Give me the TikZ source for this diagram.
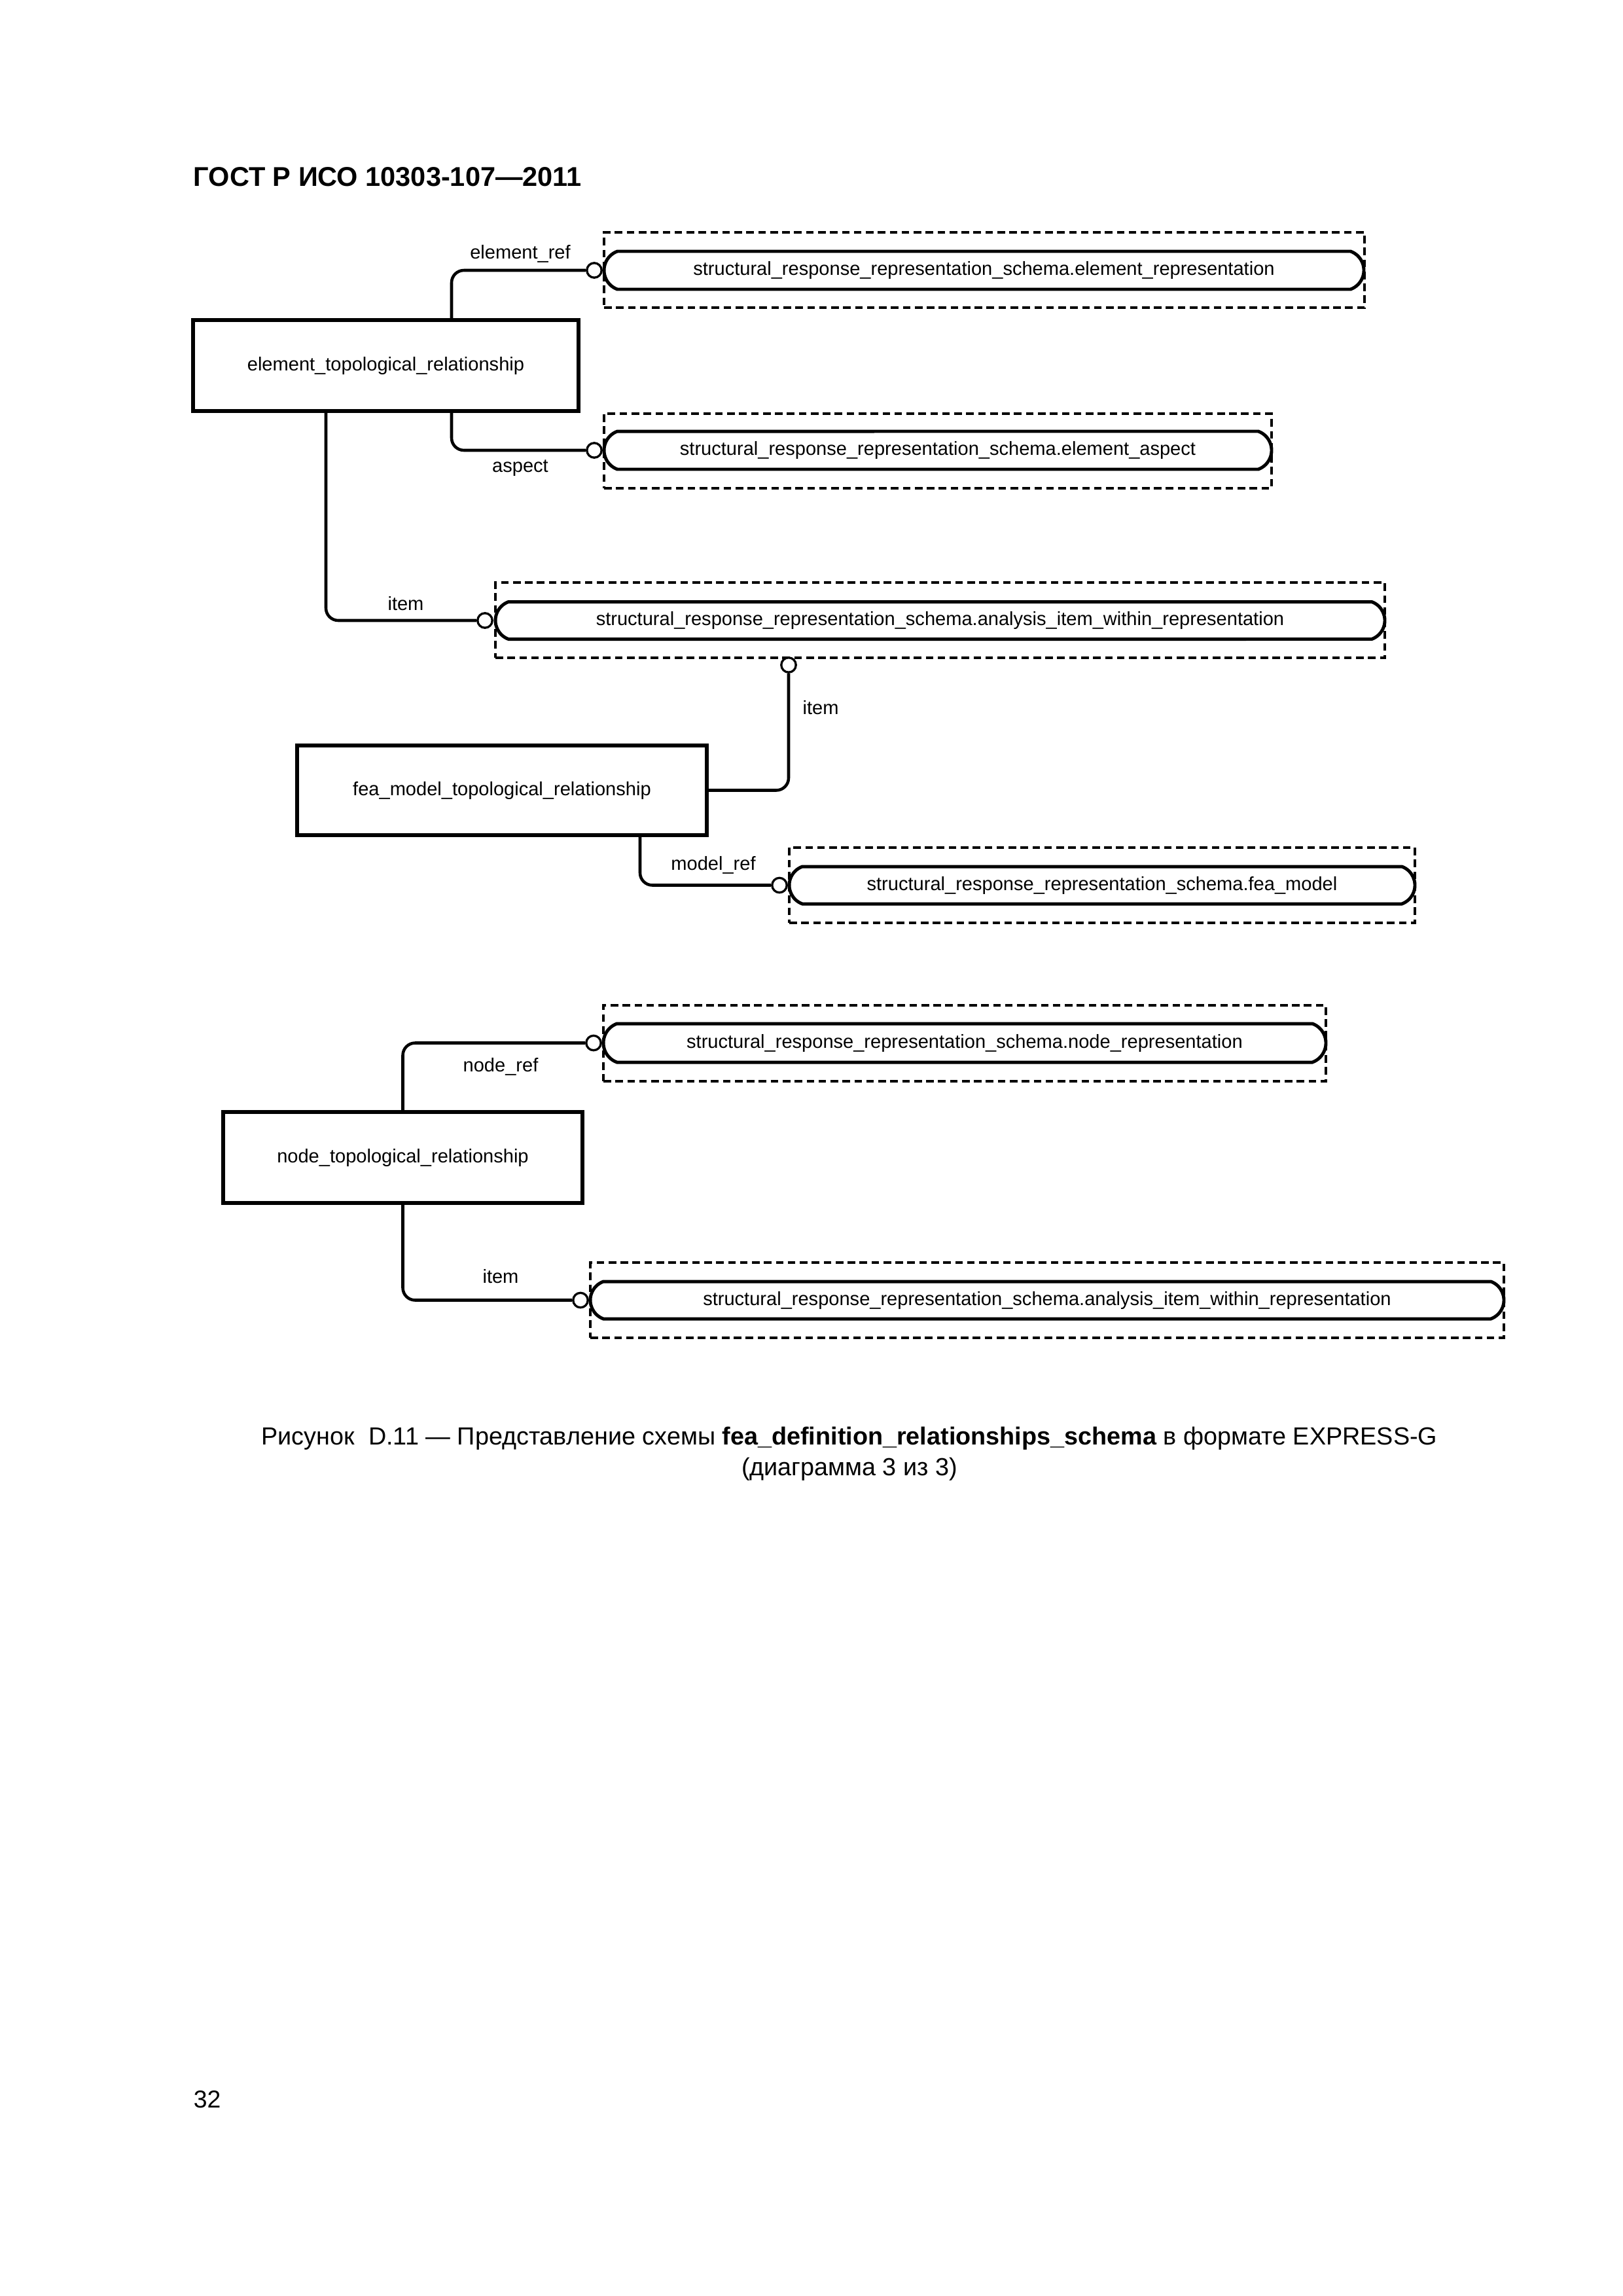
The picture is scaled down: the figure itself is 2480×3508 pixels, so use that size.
\documentclass[tikz,border=0pt]{standalone}
\usepackage{fontspec}
\setmainfont{Liberation Sans}
\usetikzlibrary{shapes.misc}
\def\PXU{0.08467mm}
\begin{document}
\begin{tikzpicture}[x=0.08467mm,y=-0.08467mm,
 entity/.style={draw, line width=1.3pt, rectangle, inner sep=0pt, font=\fontsize{7}{8}\selectfont},
 refbox/.style={draw, dash pattern=on 2.8pt off 1.6pt, line width=0.8pt, inner sep=0pt},
 refent/.style={draw, line width=1.2pt, rounded rectangle, rounded rectangle arc length=140, inner sep=0pt, font=\fontsize{7}{8}\selectfont},
 conn/.style={line width=1.1pt, rounded corners=1.6mm},
 optc/.style={draw, circle, line width=0.8pt, fill=white, minimum size=1.9mm, inner sep=0pt},
 lbl/.style={font=\fontsize{7}{8}\selectfont, inner sep=0pt}]
\useasboundingbox (0,0) rectangle (2480,3508);

% header and page number
\node[font=\fontsize{10}{12}\selectfont\bfseries, anchor=west, inner sep=0pt] (hdr) at (295,270) {ГОСТ Р ИСО 10303-107—2011};
\node[font=\fontsize{9}{11}\selectfont, anchor=west, inner sep=0pt] (pg) at (295,3208) {32};

% entities
\node[entity, minimum width=589*\PXU, minimum height=139*\PXU] (etr) at (589.5,558.5) {element\_topological\_relationship};
\node[entity, minimum width=626*\PXU, minimum height=137*\PXU] (fmtr) at (767,1207.5) {fea\_model\_topological\_relationship};
\node[entity, minimum width=549*\PXU, minimum height=139*\PXU] (ntr) at (615.5,1768.5) {node\_topological\_relationship};

% referenced entities: dashed frames
\node[refbox, minimum width=1162*\PXU, minimum height=115*\PXU] (dA) at (1504,412.5) {};
\node[refbox, minimum width=1020*\PXU, minimum height=114*\PXU] (dB) at (1433,689) {};
\node[refbox, minimum width=1359*\PXU, minimum height=115*\PXU] (dC) at (1436.5,947.5) {};
\node[refbox, minimum width=956*\PXU, minimum height=115*\PXU] (dD) at (1684,1352.5) {};
\node[refbox, minimum width=1104*\PXU, minimum height=116*\PXU] (dE) at (1474,1594) {};
\node[refbox, minimum width=1396*\PXU, minimum height=115*\PXU] (dF) at (1600,1986.5) {};

% referenced entities: rounded boxes
\node[refent, minimum width=1161*\PXU, minimum height=58*\PXU] (sA) at (1503.5,413) {structural\_response\_representation\_schema.element\_representation};
\node[refent, minimum width=1020*\PXU, minimum height=58*\PXU] (sB) at (1433,688) {structural\_response\_representation\_schema.element\_aspect};
\node[refent, minimum width=1359*\PXU, minimum height=57*\PXU] (sC) at (1436.5,948) {structural\_response\_representation\_schema.analysis\_item\_within\_representation};
\node[refent, minimum width=956*\PXU, minimum height=57*\PXU] (sD) at (1684,1352.5) {structural\_response\_representation\_schema.fea\_model};
\node[refent, minimum width=1104*\PXU, minimum height=59*\PXU] (sE) at (1474,1593.5) {structural\_response\_representation\_schema.node\_representation};
\node[refent, minimum width=1396*\PXU, minimum height=57*\PXU] (sF) at (1600,1986.5) {structural\_response\_representation\_schema.analysis\_item\_within\_representation};

% optional-end circles
\node[optc] (cA) at (908,413) {};
\node[optc] (cB) at (908,688) {};
\node[optc] (cC) at (741,948) {};
\node[optc] (cC2) at (1205,1016) {};
\node[optc] (cD) at (1191,1352.5) {};
\node[optc] (cE) at (907,1593.5) {};
\node[optc] (cF) at (887,1986.5) {};

% connectors
\draw[conn] (cA.west) -| ([xshift=100.5*\PXU]etr.north);
\draw[conn] ([xshift=100.5*\PXU]etr.south) |- (cB.west);
\draw[conn] ([xshift=-91.5*\PXU]etr.south) |- (cC.west);
\draw[conn] (cC2.south) |- (fmtr.east);
\draw[conn] ([xshift=211*\PXU]fmtr.south) |- (cD.west);
\draw[conn] (ntr.north) |- (cE.west);
\draw[conn] (ntr.south) |- (cF.west);

% labels
\node[lbl] (lA) at (795,388) {element\_ref};
\node[lbl] (lB) at (795,715) {aspect};
\node[lbl] (lC) at (620,922) {item};
\node[lbl] (lC2) at (1254,1081) {item};
\node[lbl] (lD) at (1090,1322) {model\_ref};
\node[lbl] (lE) at (765,1630) {node\_ref};
\node[lbl] (lF) at (765,1950) {item};

% caption
\node[font=\fontsize{9.1}{11.3}\selectfont, align=center, inner sep=0pt] (cap) at (1298,2221) {Рисунок\ \ D.11 — Представление схемы \textbf{fea\_definition\_relationships\_schema} в формате EXPRESS-G\\(диаграмма 3 из 3)};
\end{tikzpicture}
\end{document}
